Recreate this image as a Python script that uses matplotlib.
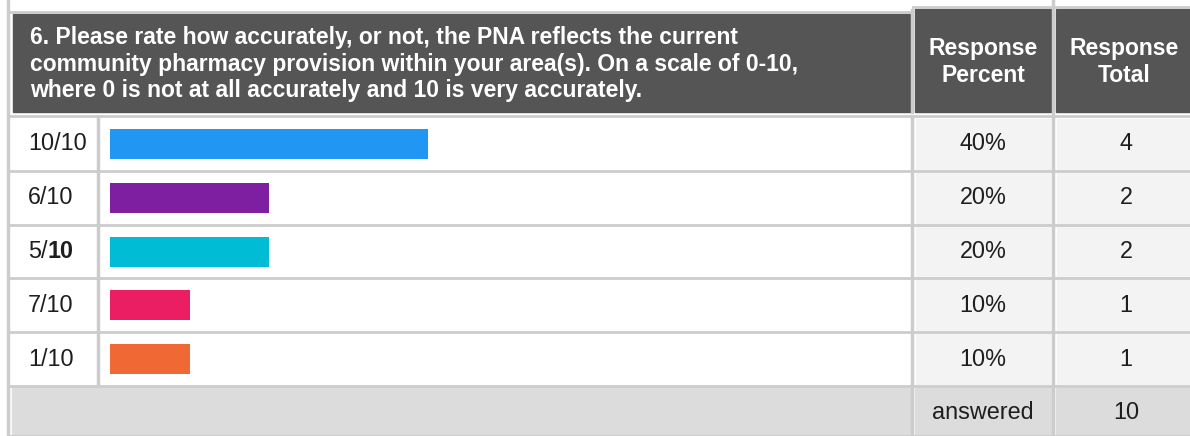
import matplotlib
matplotlib.use("Agg")
import matplotlib.pyplot as plt

plt.rcParams['font.family'] = ['Liberation Sans', 'DejaVu Sans']

# Data
question = ("6. Please rate how accurately, or not, the PNA reflects the current\n"
            "community pharmacy provision within your area(s). On a scale of 0-10,\n"
            "where 0 is not at all accurately and 10 is very accurately.")
labels = ['10/10', '6/10', '5/10', '7/10', '1/10']
percents = [40, 20, 20, 10, 10]
totals = [4, 2, 2, 1, 1]
colors = ['#2196f3', '#7e1fa2', '#00bcd4', '#ec1e63', '#f06934']
answered = 10

W, H = 1190, 436
fig = plt.figure(figsize=(W / 100, H / 100), dpi=100)
ax = fig.add_axes([0, 0, 1, 1])
ax.set_xlim(0, W)
ax.set_ylim(H, 0)
ax.axis('off')

line_c = '#cccccc'
hdr_c = '#555555'
cell_c = '#f3f3f3'
foot_c = '#dcdcdc'
txt_c = '#1e1e1e'
hfs = 16.5   # header font size
bfs = 16.8   # body font size

# table frame
ax.plot([8, 8], [0, 436], color=line_c, lw=2.5)
ax.plot([8, 912], [12, 12], color=line_c, lw=2)
ax.plot([913, 1190], [7, 7], color=line_c, lw=2)

# header cells
ax.add_patch(plt.Rectangle((13, 14), 897, 98, color=hdr_c))
ax.add_patch(plt.Rectangle((915, 9), 136, 103, color=hdr_c))
ax.add_patch(plt.Rectangle((1056, 9), 134, 103, color=hdr_c))
ax.text(30, 64, question, color='white', fontsize=hfs, fontweight='bold',
        va='center', ha='left', linespacing=1.2)
ax.text(983, 62, 'Response\nPercent', color='white', fontsize=hfs,
        fontweight='bold', va='center', ha='center', linespacing=1.2)
ax.text(1124, 62, 'Response\nTotal', color='white', fontsize=hfs,
        fontweight='bold', va='center', ha='center', linespacing=1.2)

top, row_h = 117, 53.8
n = len(labels)
ax.plot([8, 1190], [top - 1, top - 1], color=line_c, lw=2)
for i in range(n):
    y0 = top + i * row_h
    yc = y0 + row_h / 2
    ax.add_patch(plt.Rectangle((916, y0 + 2), 134, row_h - 4, color=cell_c))
    ax.add_patch(plt.Rectangle((1057, y0 + 2), 133, row_h - 4, color=cell_c))
    ax.plot([8, 1190], [y0 + row_h, y0 + row_h], color=line_c, lw=2)
    ax.text(983, yc, f'{percents[i]}%', fontsize=bfs, ha='center', va='center',
            color=txt_c)
    ax.text(1126, yc, str(totals[i]), fontsize=bfs, ha='center', va='center',
            color=txt_c)
    lab = labels[i]
    if lab == '5/10':
        t = ax.text(28, yc, '5/', fontsize=bfs, ha='left', va='center',
                    color=txt_c)
        ax.annotate('10', xy=(1, 0), xycoords=t, fontsize=bfs,
                    fontweight='bold', ha='left', va='bottom', color=txt_c)
    else:
        ax.text(28, yc, lab, fontsize=bfs, ha='left', va='center',
                color=txt_c)

y_end = top + n * row_h
ax.plot([98, 98], [top, y_end - 2], color=line_c, lw=2.5)
ax.plot([912, 912], [top, y_end], color=line_c, lw=2.5)
ax.plot([1053, 1053], [0, y_end], color=line_c, lw=2.5)
ax.plot([912, 912], [10, 112], color=line_c, lw=2.5)

# footer
fy = y_end + 2
ax.add_patch(plt.Rectangle((12, fy), 898, 47, color=foot_c))
ax.add_patch(plt.Rectangle((915, fy), 136, 47, color=foot_c))
ax.add_patch(plt.Rectangle((1056, fy), 134, 47, color=foot_c))
ax.plot([8, 1190], [fy + 48, fy + 48], color=line_c, lw=2)
ax.plot([912, 912], [fy, fy + 48], color=line_c, lw=2.5)
ax.plot([1053, 1053], [fy, fy + 48], color=line_c, lw=2.5)
ax.text(983, fy + 24, 'answered', fontsize=bfs, ha='center', va='center',
        color=txt_c)
ax.text(1126, fy + 24, str(answered), fontsize=bfs, ha='center', va='center',
        color=txt_c)

# bars
bx0, bx1 = 110, 905
bax = fig.add_axes([bx0 / W, 1 - y_end / H, (bx1 - bx0) / W, (y_end - top) / H])
bax.barh(range(n), percents, height=30 / row_h, color=colors)
bax.set_xlim(0, 100)
bax.set_ylim(n - 0.5, -0.5)
bax.axis('off')

fig.savefig('out.png', dpi=100)
